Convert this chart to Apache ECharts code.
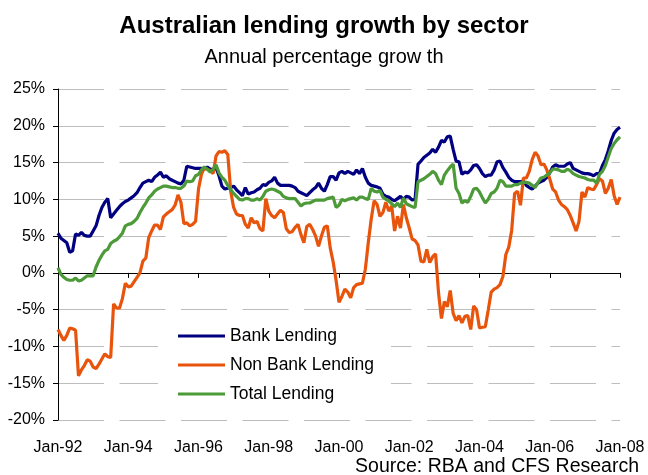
<!DOCTYPE html>
<html>
<head>
<meta charset="utf-8">
<title>Australian lending growth by sector</title>
<script src="https://cdn.jsdelivr.net/npm/echarts@6/dist/echarts.min.js"></script>
<style>
  html, body { margin: 0; padding: 0; background: #ffffff; }
  #chart { width: 648px; height: 475px; }
</style>
</head>
<body>
<div id="chart"></div>
<script>
// Annual growth (%), monthly observations Jan-92 .. Jan-08, one row per year
const bankLending = [
  5.4, 4.7, 4.4, 4.1, 2.8, 3.0, 5.3, 5.1, 5.5, 5.1, 5.0, 5.0,
  5.7, 6.4, 7.8, 8.9, 9.6, 10.1, 7.5, 8.0, 8.5, 9.0, 9.4, 9.7,
  9.9, 10.2, 10.5, 10.9, 11.6, 12.2, 12.4, 12.6, 12.4, 13.0, 13.3, 13.7,
  13.0, 13.2, 12.8, 12.6, 12.4, 12.2, 12.1, 12.6, 14.5, 14.4, 14.3, 14.2,
  14.2, 14.2, 14.1, 14.4, 14.1, 14.0, 14.3, 13.2, 11.8, 11.4, 11.5, 11.6,
  11.8, 11.3, 10.9, 10.5, 11.6, 10.7, 10.9, 11.0, 11.3, 11.5, 12.0, 11.9,
  12.3, 12.5, 13.0, 12.2, 11.9, 11.9, 11.9, 11.9, 11.8, 11.6, 11.1, 10.9,
  10.7, 10.5, 10.9, 11.3, 11.6, 12.2, 11.5, 11.1, 12.0, 13.1, 13.1, 12.6,
  13.6, 13.8, 13.5, 13.8, 13.6, 13.4, 14.0, 13.5, 14.2, 13.0, 12.2, 11.9,
  11.8, 11.7, 11.5, 10.7, 10.4, 10.3, 10.0, 9.8, 10.1, 10.4, 10.0, 10.4,
  10.3, 9.9, 10.0, 14.8, 15.2, 15.7, 16.0, 16.3, 16.8, 16.4, 17.1, 18.0,
  17.8, 18.5, 18.6, 16.8, 15.2, 15.1, 13.4, 13.7, 13.6, 14.0, 14.6, 14.7,
  14.2, 13.5, 13.1, 13.3, 13.3, 14.0, 15.1, 15.2, 14.3, 13.7, 13.0, 12.6,
  12.4, 12.4, 12.4, 12.5, 11.9, 11.6, 11.4, 11.8, 12.2, 12.4, 12.6, 13.0,
  13.6, 14.4, 14.7, 14.5, 14.5, 14.5, 14.8, 15.0, 14.2, 14.0, 13.8, 13.6,
  13.5, 13.5, 13.4, 13.2, 13.5, 13.5, 14.6, 15.4, 16.6, 18.0, 19.0, 19.5,
  19.8
];

const nonBankLending = [
  -7.7, -8.5, -9.2, -8.5, -7.5, -7.6, -7.8, -14.0, -13.2, -12.6, -11.8, -12.0,
  -12.8, -13.0, -12.4, -11.7, -11.0, -11.4, -11.5, -4.2, -4.8, -4.8, -3.5, -1.4,
  -1.9, -1.8, -1.2, -0.6, 0.0, 1.6, 2.0, 4.8, 5.7, 6.5, 6.5, 5.9,
  7.6, 8.0, 8.3, 8.6, 9.2, 10.6, 9.6, 6.7, 6.8, 6.4, 6.6, 7.0,
  11.4, 13.4, 14.3, 14.1, 13.9, 13.5, 15.9, 16.5, 16.4, 16.6, 16.1, 11.1,
  8.9, 8.0, 7.8, 7.8, 6.6, 6.1, 7.5, 6.8, 7.0, 6.0, 5.7, 10.1,
  8.4, 7.8, 7.5, 8.0, 8.5, 8.2, 6.0, 5.5, 5.6, 6.2, 6.6, 5.2,
  4.1, 6.3, 6.6, 5.9, 5.0, 3.6, 5.0, 6.2, 6.4, 3.4, 1.5, -1.0,
  -4.0, -3.2, -2.2, -2.6, -3.4, -2.0, -1.6, -1.5, -1.4, 0.5, 4.1, 7.3,
  9.8, 9.3, 7.7, 8.2, 9.6, 8.4, 9.1, 5.7, 7.7, 6.1, 9.3, 7.5,
  6.1, 4.6, 4.4, 3.8, 1.6, 1.5, 3.2, 1.4, 2.2, 2.6, -2.7, -6.2,
  -3.9, -4.6, -2.4, -5.5, -6.5, -5.8, -6.8, -5.9, -5.8, -7.7, -4.5, -5.0,
  -7.5, -7.4, -7.3, -5.0, -2.6, -2.2, -2.0, -1.6, -0.5, 2.5, 3.5, 5.8,
  10.8, 11.1, 9.2, 12.9, 12.9, 13.8, 15.4, 16.4, 15.9, 14.7, 14.8, 14.0,
  12.8, 11.4, 11.0, 9.9, 9.3, 9.0, 8.6, 7.8, 6.8, 5.7, 7.0, 11.0,
  10.3, 11.6, 11.4, 11.3, 12.0, 12.8, 12.5, 10.8, 11.5, 12.7, 10.5, 9.3,
  10.3
];

const totalLending = [
  0.7, -0.2, -0.6, -0.9, -1.0, -1.0, -0.7, -1.1, -1.0, -0.7, -0.4, -0.4,
  -0.4, 0.8, 1.7, 2.4, 3.0, 3.2, 4.0, 4.3, 4.5, 4.9, 5.4, 6.4,
  6.6, 6.7, 7.0, 7.4, 8.2, 8.9, 9.5, 10.2, 10.6, 11.1, 11.4, 11.6,
  11.8, 11.8, 11.7, 11.6, 11.6, 11.5, 11.5, 11.8, 12.5, 12.4, 12.5, 13.2,
  13.4, 14.0, 14.4, 14.1, 13.7, 14.1, 14.7, 13.6, 13.0, 12.6, 11.9, 11.3,
  10.8, 10.4, 10.0, 9.9, 10.1, 10.1, 9.9, 9.9, 10.1, 9.9, 10.4, 11.1,
  11.3, 11.4, 11.3, 11.1, 10.9, 10.4, 10.2, 10.1, 10.1, 10.1, 9.6, 9.1,
  9.4, 9.5, 9.5, 9.7, 9.9, 9.9, 9.9, 9.9, 10.1, 10.2, 10.3, 8.9,
  9.2, 10.0, 9.8, 10.0, 10.1, 10.2, 9.9, 10.3, 10.3, 10.1, 10.0, 11.5,
  11.1, 11.0, 11.2, 10.3, 10.0, 9.8, 9.4, 9.0, 9.5, 8.9, 10.2, 9.4,
  9.2, 9.0, 8.9, 12.4, 12.6, 12.8, 13.1, 13.4, 13.8, 13.5, 12.6, 12.0,
  13.3, 13.9, 14.4, 14.8, 11.5, 10.8, 9.5, 9.8, 9.6, 10.4, 11.4, 11.5,
  11.0, 10.2, 9.5, 10.0, 10.8, 11.0, 11.5, 12.6, 12.4, 11.8, 11.8, 11.8,
  12.0, 12.0, 12.2, 12.3, 12.3, 12.2, 11.9, 11.6, 12.3, 12.9, 13.0, 13.3,
  13.6, 14.1, 14.1, 14.0, 13.8, 13.8, 14.1, 13.9, 13.5, 13.3, 13.1, 13.0,
  12.9, 12.7, 12.6, 12.6, 12.2, 13.4, 13.8, 14.6, 15.8, 16.9, 17.6, 18.1,
  18.5
];

const seriesNames = ['Bank Lending', 'Non Bank Lending', 'Total Lending'];
const monthNames = ['Jan', 'Feb', 'Mar', 'Apr', 'May', 'Jun', 'Jul', 'Aug', 'Sep', 'Oct', 'Nov', 'Dec'];
const firstYear = 1992;
const yTicks = { min: -20, max: 25, step: 5 };

// Month labels such as "Jan-92"
const categories = bankLending.map(function (_, i) {
  const yr = firstYear + Math.floor(i / 12);
  return monthNames[i % 12] + '-' + String(yr % 100).padStart(2, '0');
});

const FONT = '"Liberation Sans", Arial, sans-serif';
const chart = echarts.init(document.getElementById('chart'), null, { renderer: 'canvas' });

const everyTwoYears = function (idx) { return idx % 24 === 0; };

chart.setOption({
  animation: false,
  backgroundColor: '#ffffff',
  color: ['#000080', '#E8540C', '#4C9A38'],
  title: [
    {
      text: 'Australian lending growth by sector',
      left: 'center', top: 9,
      textStyle: { fontFamily: FONT, fontSize: 24, fontWeight: 'bold', color: '#000000' }
    },
    {
      text: 'Annual percentage grow th',
      left: 'center', top: 42,
      textStyle: { fontFamily: FONT, fontSize: 20, fontWeight: 'normal', color: '#000000' }
    },
    {
      text: 'Source: RBA and CFS Research',
      right: 4, top: 452,
      textStyle: { fontFamily: FONT, fontSize: 19.5, fontWeight: 'normal', color: '#000000' }
    }
  ],
  legend: {
    data: seriesNames,
    orient: 'vertical',
    left: 158, top: 318,
    padding: [8, 17, 8, 20],
    backgroundColor: '#ffffff',
    icon: 'rect',
    itemWidth: 47, itemHeight: 3, itemGap: 9,
    textStyle: { fontFamily: FONT, fontSize: 17.5, color: '#000000', lineHeight: 20 }
  },
  grid: { left: 58, right: 28, top: 89, bottom: 55, containLabel: false },
  xAxis: {
    type: 'category',
    data: categories,
    boundaryGap: false,
    axisLine: { lineStyle: { color: '#000000', width: 1 } },
    axisTick: { interval: everyTwoYears, length: 5, lineStyle: { color: '#000000' } },
    axisLabel: { interval: everyTwoYears, margin: 20, fontFamily: FONT, fontSize: 16, color: '#000000' },
    splitLine: { show: false }
  },
  yAxis: {
    type: 'value',
    min: yTicks.min, max: yTicks.max, interval: yTicks.step,
    axisLine: { show: true, lineStyle: { color: '#000000', width: 1 } },
    axisTick: { show: true, length: 5, lineStyle: { color: '#000000' } },
    axisLabel: { margin: 13, fontFamily: FONT, fontSize: 16, color: '#000000', formatter: '{value}%' },
    splitLine: { show: true, lineStyle: { color: '#bdbdbd', width: 1, type: [46, 15.5] } }
  },
  series: [
    { name: seriesNames[0], type: 'line', data: bankLending, symbol: 'none', lineStyle: { width: 3.2 } },
    { name: seriesNames[1], type: 'line', data: nonBankLending, symbol: 'none', lineStyle: { width: 3.2 } },
    { name: seriesNames[2], type: 'line', data: totalLending, symbol: 'none', lineStyle: { width: 3.2 } }
  ]
});
</script>
</body>
</html>
